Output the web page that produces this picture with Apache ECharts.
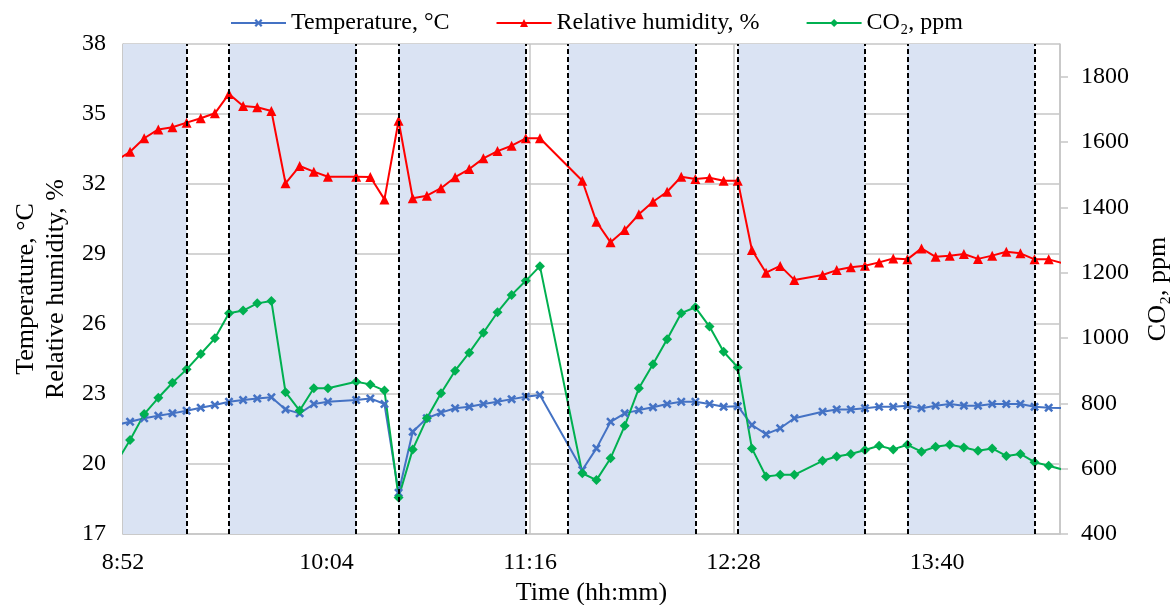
<!DOCTYPE html>
<html>
<head>
<meta charset="utf-8">
<script src="https://cdn.jsdelivr.net/npm/echarts@6/dist/echarts.min.js"></script>
<style>
  html, body { margin: 0; padding: 0; background: #fff; }
  #chart { width: 1172px; height: 605px; }
</style>
</head>
<body>
<div id="chart"></div>
<script>
// sample times (hh:mm), 5 min logging, some samples missing
const times = ['8:50','8:55','9:00','9:05','9:10','9:15','9:20','9:25','9:30','9:35','9:40','9:45','9:50','9:55','10:00','10:05',
  '10:15','10:20','10:25','10:30','10:35','10:40','10:45','10:50','10:55','11:00','11:05','11:10','11:15','11:20',
  '11:35','11:40','11:45','11:50','11:55','12:00','12:05','12:10','12:15','12:20','12:25','12:30','12:35','12:40','12:45','12:50',
  '13:00','13:05','13:10','13:15','13:20','13:25','13:30','13:35','13:40','13:45','13:50','13:55','14:00','14:05','14:10','14:15','14:20','14:25']

const temperature = [21.67,21.81,21.96,22.07,22.17,22.28,22.41,22.53,22.67,22.74,22.81,22.86,22.34,22.17,22.57,22.67,
  22.74,22.81,22.57,18.77,21.38,21.96,22.2,22.39,22.45,22.57,22.67,22.78,22.88,22.96,
  19.74,20.67,21.81,22.17,22.31,22.43,22.57,22.67,22.67,22.57,22.45,22.48,21.67,21.28,21.53,21.96,
  22.24,22.34,22.34,22.39,22.45,22.45,22.5,22.39,22.5,22.57,22.5,22.5,22.57,22.57,22.57,22.45,22.41,22.4]

const humidity = [33.0,33.38,33.96,34.34,34.43,34.63,34.82,35.03,35.86,35.34,35.29,35.13,32.03,32.77,32.53,32.31,
  32.31,32.3,31.34,34.71,31.39,31.5,31.82,32.29,32.64,33.1,33.41,33.64,33.96,33.96,
  32.14,30.38,29.5,30.03,30.7,31.24,31.67,32.31,32.21,32.27,32.14,32.14,29.17,28.2,28.49,27.89,
  28.1,28.31,28.43,28.5,28.64,28.81,28.77,29.24,28.88,28.93,29.0,28.79,28.93,29.1,29.03,28.77,28.77,28.6]

const co2 = [616,688,767,817,863,904,951,999,1076,1084,1106,1113,834,778,846,846,
  866,858,839,512,659,754,831,900,955,1016,1079,1132,1175,1220,
  586,565,632,731,846,920,996,1076,1094,1035,958,910,662,576,581,581,
  624,637,645,657,670,659,673,652,667,673,665,655,662,639,645,620,609,597]

// occupied periods (shaded) and their boundaries (dashed)
const periods = [['8:45','9:15'],['9:30','10:15'],['10:30','11:15'],['11:30','12:15'],['12:30','13:15'],['13:30','14:15']]
const boundaries = ['9:15','9:30','10:15','10:30','11:15','11:30','12:15','12:30','13:15','13:30','14:15']

const leftTicks = { min: 17, max: 38, interval: 3 }
const rightTicks = { min: 400, max: 1900, interval: 200 }

const AXIS_START = 8 * 60 + 52.5   // 8:52
const AXIS_END = 14 * 60 + 24
const FONT = 'Liberation Serif, Times New Roman, serif'

function toOffset(s) {
  const p = s.split(':').map(Number)
  return p[0] * 60 + p[1] - AXIS_START
}
function fmtTime(v) {
  const m = Math.floor(v + AXIS_START + 1e-6)
  return Math.floor(m / 60) + ':' + String(m % 60).padStart(2, '0')
}
const xs = times.map(toOffset)
const pairs = arr => arr.map((v, i) => [xs[i], v])

const gridColor = '#C6C6C6'

const option = {
  animation: false,
  backgroundColor: '#fff',
  textStyle: { fontFamily: FONT, color: '#000' },
  legend: {
    top: 6,
    left: 225,
    itemWidth: 55,
    itemHeight: 10,
    itemGap: 46,
    textStyle: { fontFamily: FONT, fontSize: 24, color: '#000' },
    data: ['Temperature, °C', 'Relative humidity, %', 'CO₂, ppm']
  },
  grid: { left: 123, right: 112, top: 44, bottom: 71, outerBoundsMode: 'none', containLabel: false },
  xAxis: {
    type: 'value',
    min: 0,
    max: AXIS_END - AXIS_START,
    interval: 72,
    name: 'Time (hh:mm)',
    nameLocation: 'middle',
    nameGap: 42,
    nameTextStyle: { fontFamily: FONT, fontSize: 26, color: '#000' },
    axisLine: { show: true, lineStyle: { color: gridColor, width: 1.5 } },
    axisTick: { show: false },
    axisLabel: { formatter: fmtTime, fontSize: 24, color: '#000', margin: 17, showMaxLabel: false },
    splitLine: { show: true, lineStyle: { color: gridColor, width: 1.5 } }
  },
  yAxis: [
    {
      type: 'value',
      min: leftTicks.min,
      max: leftTicks.max,
      interval: leftTicks.interval,
      name: 'Temperature, °C\nRelative humidity, %',
      nameLocation: 'middle',
      nameGap: 52,
      nameTextStyle: { fontFamily: FONT, fontSize: 26, color: '#000', lineHeight: 30 },
      axisLine: { show: true, lineStyle: { color: gridColor, width: 1.5 } },
      axisTick: { show: false },
      axisLabel: { fontSize: 24, color: '#000', margin: 17 },
      splitLine: { show: true, lineStyle: { color: gridColor, width: 1.5 } }
    },
    {
      type: 'value',
      position: 'right',
      min: rightTicks.min,
      max: rightTicks.max,
      interval: rightTicks.interval,
      name: 'CO₂, ppm',
      nameLocation: 'middle',
      nameGap: 85,
      nameTextStyle: { fontFamily: FONT, fontSize: 26, color: '#000' },
      axisLine: { show: true, lineStyle: { color: gridColor, width: 1.5 } },
      axisTick: { show: true, inside: false, length: 8, lineStyle: { color: gridColor, width: 1.5 } },
      axisLabel: { fontSize: 24, color: '#000', margin: 21, showMaxLabel: false, formatter: v => String(v) },
      splitLine: { show: false }
    }
  ],
  series: [
    {
      name: 'bands',
      type: 'line',
      data: [],
      z: -1,
      silent: true,
      markArea: {
        silent: true,
        itemStyle: { color: '#DAE3F3' },
        data: periods.map(p => [{ xAxis: Math.max(0, toOffset(p[0])) }, { xAxis: toOffset(p[1]) }])
      }
    },
    {
      name: 'bounds',
      type: 'line',
      data: [],
      z: 1,
      silent: true,
      markLine: {
        silent: true,
        symbol: 'none',
        label: { show: false },
        lineStyle: { color: '#000', type: [5, 3], width: 2 },
        data: boundaries.map(b => ({ xAxis: toOffset(b) }))
      }
    },
    {
      name: 'Temperature, °C',
      type: 'line',
      yAxisIndex: 0,
      data: pairs(temperature),
      symbol: 'path://M2,0L5,3L8,0L10,2L7,5L10,8L8,10L5,7L2,10L0,8L3,5L0,2Z',
      symbolSize: 9,
      showAllSymbol: true,
      lineStyle: { color: '#4472C4', width: 2 },
      itemStyle: { color: '#4472C4' },
      z: 3
    },
    {
      name: 'Relative humidity, %',
      type: 'line',
      yAxisIndex: 0,
      data: pairs(humidity),
      symbol: 'triangle',
      symbolSize: 10,
      showAllSymbol: true,
      lineStyle: { color: '#FF0000', width: 2 },
      itemStyle: { color: '#FF0000' },
      z: 3
    },
    {
      name: 'CO₂, ppm',
      type: 'line',
      yAxisIndex: 1,
      data: pairs(co2),
      symbol: 'diamond',
      symbolSize: 10,
      showAllSymbol: true,
      lineStyle: { color: '#00B050', width: 2 },
      itemStyle: { color: '#00B050' },
      z: 3
    }
  ]
}

const chart = echarts.init(document.getElementById('chart'))
chart.setOption(option)
</script>
</body>
</html>
